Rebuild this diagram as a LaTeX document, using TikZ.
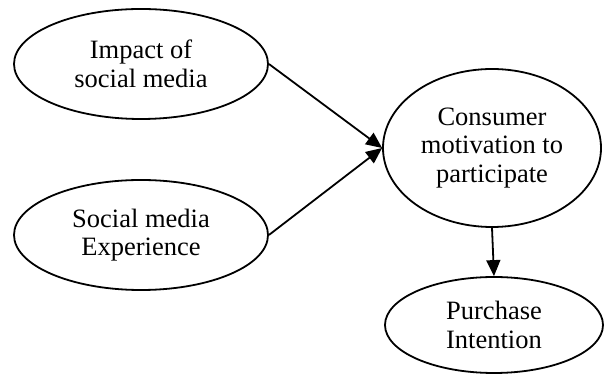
\documentclass[tikz,border=0pt]{standalone}
\usepackage{fontspec}
\setmainfont{Liberation Serif}
\usetikzlibrary{arrows.meta,shapes.geometric}

\begin{document}
\begin{tikzpicture}[x=1pt,y=1pt,
  construct/.style={ellipse,draw,line width=1.8pt,align=center,inner sep=0pt,font=\fontsize{26.5}{28.5}\selectfont},
  link/.style={line width=1.8pt,-{Triangle[length=16pt,width=14pt]}}]
  \useasboundingbox (0,0) rectangle (612,374);
  \node[construct,minimum width=254,minimum height=110] (impact) at (141,310) {Impact of\\social media};
  \node[construct,minimum width=254,minimum height=110] (experience) at (141,139) {Social media\\Experience};
  \node[construct,minimum width=218,minimum height=158] (motivation) at (492,226) {Consumer\\motivation to\\participate};
  \node[construct,minimum width=218,minimum height=96] (purchase) at (494,49) {Purchase\\Intention};
  \draw[link] (impact.east) -- (motivation.west);
  \draw[link] (experience.east) -- (motivation.west);
  \draw[link] (motivation.south) -- (purchase.north);
\end{tikzpicture}
\end{document}
